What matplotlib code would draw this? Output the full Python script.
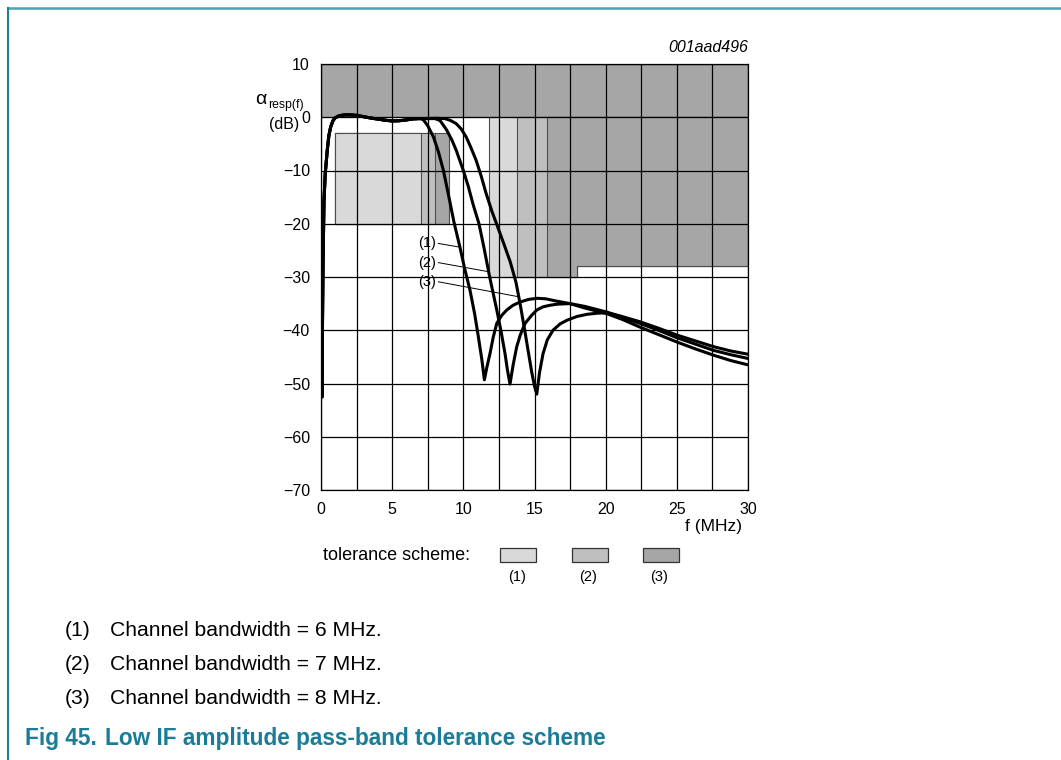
import matplotlib
matplotlib.use("Agg")
import matplotlib.pyplot as plt
from matplotlib.patches import Polygon, Rectangle
from matplotlib.lines import Line2D
import numpy as np

plt.rcParams['font.family'] = ['Liberation Sans', 'DejaVu Sans']

# ---------------- data ----------------
# shared pass-band part of all three responses (f in MHz, response in dB)
pass_f = [0.08, 0.1, 0.14, 0.21, 0.3, 0.44, 0.55, 0.68, 0.85, 1.0, 1.3, 1.7, 2.0,
          2.5, 3.0, 3.5, 4.0, 4.5, 5.0, 5.5, 6.0, 6.5, 7.0]
pass_db = [-52.5, -40, -28, -15.6, -10.5, -6.2, -3.5, -1.8, -0.6, -0.1, 0.3, 0.45, 0.45,
           0.35, 0.1, -0.15, -0.35, -0.55, -0.7, -0.65, -0.5, -0.3, -0.25]

# (1) channel bandwidth 6 MHz
c1_f = [7.2, 7.5, 7.9, 8.25, 8.6, 8.95, 9.35, 9.77, 10.1, 10.47, 10.8, 11.06, 11.3, 11.48,
        11.65, 11.88, 12.1, 12.35, 12.7, 13.05, 13.5, 13.98, 14.6, 15.2, 15.8, 16.5, 17.5,
        18.5, 20.1, 21.2, 22.4, 23.7, 25.0, 26.3, 27.6, 28.8, 30.0]
c1_db = [-0.5, -1.6, -3.7, -6.5, -10, -14.5, -19.8, -24.5, -28.5, -32.5, -37, -41.3, -45.5, -49.3,
         -47, -44.3, -41.3, -38.7, -37.2, -36.2, -35.3, -34.7, -34.2, -34.0, -34.1, -34.5, -35.0,
         -35.8, -36.9, -38.0, -39.4, -40.8, -42.2, -43.5, -44.7, -45.7, -46.5]

# (2) channel bandwidth 7 MHz
c2_f = [7.5, 8.0, 8.36, 8.83, 9.2, 9.5, 10.0, 10.35, 10.7, 11.1, 11.45, 11.85, 12.35, 12.65,
        12.93, 13.1, 13.28, 13.5, 13.75, 14.0, 14.34, 14.8, 15.16, 15.6, 16.1, 16.6, 17.5,
        18.5, 20.1, 21.2, 22.4, 23.7, 25.0, 26.3, 27.6, 28.8, 30.0]
c2_db = [-0.25, -0.25, -0.6, -2.4, -4.3, -6.2, -10, -13, -16.5, -20, -24.5, -30, -36.2, -40.2,
         -44.4, -47.5, -50.1, -46.5, -43.1, -40.9, -38.7, -37.2, -36.2, -35.6, -35.3, -35.1, -35.0,
         -35.5, -36.6, -37.6, -38.7, -40.0, -41.4, -42.6, -43.8, -44.6, -45.3]

# (3) channel bandwidth 8 MHz
c3_f = [7.5, 8.0, 8.7, 9.1, 9.5, 9.85, 10.2, 10.55, 10.9, 11.25, 11.6, 12.0, 12.4, 12.85, 13.3,
        13.7, 14.0, 14.3, 14.55, 14.8, 15.0, 15.16, 15.35, 15.6, 15.9, 16.3, 16.8, 17.3,
        18.0, 18.7, 19.4, 20.1, 21.0, 22.4, 23.7, 25.0, 26.3, 27.6, 28.8, 30.0]
c3_db = [-0.25, -0.2, -0.25, -0.6, -1.2, -2.2, -3.7, -5.8, -8.1, -11, -14.3, -17.6, -20.5, -23.8, -27.2,
         -31, -35.2, -39.8, -43.8, -47.8, -50.5, -52, -48, -44.4, -41.8, -40, -38.8, -38.1,
         -37.4, -37.0, -36.8, -36.7, -37.3, -38.4, -39.6, -40.9, -42.0, -43.1, -43.9, -44.5]

# tolerance schemes
scheme_labels = ['(1)', '(2)', '(3)']
scheme_colors = ['#d9d9d9', '#bfbfbf', '#a6a6a6']
upper_limit_f = [0, 30]
upper_limit_db = [0, 10]
pass_start_f = 1.0
pass_stop_f = [7.0, 8.0, 9.0]
pass_top_db = -3
pass_bottom_db = -20
stop_start_f = [11.8, 13.8, 15.9]
stop_step_f = 18.0
stop_floor_db = [-30, -28]
stop_end_f = 30.0

# annotations: label position and curve point
ann_labels = ['(1)', '(2)', '(3)']
ann_text = [(8.1, -23.7), (8.1, -27.3), (8.1, -30.9)]
ann_tip = [(9.77, -24.4), (11.76, -29.0), (13.87, -33.7)]

x_ticks = [0, 5, 10, 15, 20, 25, 30]
y_ticks = [10, 0, -10, -20, -30, -40, -50, -60, -70]

# ---------------- figure ----------------
W, H = 1061, 760
fig = plt.figure(figsize=(W / 100, H / 100), dpi=100)

def px(x, y):
    return x / W, 1 - y / H

ax = fig.add_axes([321 / W, 1 - 490 / H, (748 - 321) / W, (490 - 64) / H])
ax.set_xlim(0, 30)
ax.set_ylim(-70, 10)

edge = '#4d4d4d'
# upper limit band
ax.add_patch(Rectangle((upper_limit_f[0], upper_limit_db[0]),
                       upper_limit_f[1] - upper_limit_f[0],
                       upper_limit_db[1] - upper_limit_db[0],
                       facecolor=scheme_colors[2], edgecolor=edge, lw=0.8, zorder=1))
# pass band boxes, widest (3) first
for i in [2, 1, 0]:
    ax.add_patch(Rectangle((pass_start_f, pass_bottom_db), pass_stop_f[i] - pass_start_f,
                           pass_top_db - pass_bottom_db, facecolor=scheme_colors[i],
                           edgecolor=edge, lw=0.8, zorder=1))
# stop band regions
for i in [0, 1, 2]:
    poly = [(stop_start_f[i], 0), (stop_start_f[i], stop_floor_db[0]),
            (stop_step_f, stop_floor_db[0]), (stop_step_f, stop_floor_db[1]),
            (stop_end_f, stop_floor_db[1]), (stop_end_f, 0)]
    ax.add_patch(Polygon(poly, closed=True, facecolor=scheme_colors[i],
                         edgecolor=edge, lw=0.8, zorder=1))

ax.set_xticks(x_ticks)
ax.set_yticks(y_ticks)
ax.set_xticks(np.arange(2.5, 30, 5), minor=True)
ax.grid(which='both', color='black', lw=0.9, zorder=1.5)
ax.tick_params(which='both', length=0)
ax.tick_params(axis='x', pad=9, labelsize=11.5)
ax.tick_params(axis='y', pad=8, labelsize=11.5)
ax.set_yticklabels([str(v).replace('-', '\u2212') for v in y_ticks])
for s in ax.spines.values():
    s.set_linewidth(0.9)

lw = 2.2
for cf, cd in [(c3_f, c3_db), (c2_f, c2_db), (c1_f, c1_db)]:
    ax.plot(pass_f + cf, pass_db + cd, color='black', lw=lw, zorder=3,
            solid_capstyle='round', solid_joinstyle='round')

for lab, (tx, ty), (hx, hy) in zip(ann_labels, ann_text, ann_tip):
    ax.text(tx, ty, lab, ha='right', va='center', fontsize=10.5, zorder=4)
    ax.plot([tx + 0.15, hx], [ty, hy], color='black', lw=0.7, zorder=4)

# axis labels
fig.text(*px(267, 104), '\u03b1', fontsize=14, ha='right', va='baseline')
fig.text(*px(268, 108), 'resp(f)', fontsize=8.8, ha='left', va='baseline')
fig.text(*px(284, 124), '(dB)', fontsize=11.5, ha='center', va='center')
fig.text(*px(742, 527), 'f (MHz)', fontsize=12.5, ha='right', va='center')
fig.text(*px(748, 48), '001aad496', fontsize=11.5, ha='right', va='center', style='italic')

# tolerance scheme legend
fig.text(*px(323, 556), 'tolerance scheme:', fontsize=13, ha='left', va='center')
box_x = [500, 571.5, 642.5]
for i in range(3):
    x0, y0 = px(box_x[i], 562)
    fig.patches.append(Rectangle((x0, y0), 36 / W, 14 / H, transform=fig.transFigure,
                                 facecolor=scheme_colors[i], edgecolor='#333333', lw=0.9))
    fig.text(*px(box_x[i] + 17, 577), scheme_labels[i], fontsize=10.5, ha='center', va='center')

# notes
notes = ['Channel bandwidth = 6 MHz.', 'Channel bandwidth = 7 MHz.', 'Channel bandwidth = 8 MHz.']
note_y = [631, 665, 699]
for lab, txt, y in zip(scheme_labels, notes, note_y):
    fig.text(*px(65, y), lab, fontsize=15.2, ha='left', va='center')
    fig.text(*px(110, y), txt, fontsize=15.2, ha='left', va='center')

teal = '#1b7c97'
fig.text(*px(25, 739), 'Fig 45.', fontsize=16.3, fontweight='bold', color=teal, ha='left', va='center')
fig.text(*px(105, 739), 'Low IF amplitude pass-band tolerance scheme', fontsize=16.3,
         fontweight='bold', color=teal, ha='left', va='center')

# frame lines
fig.add_artist(Line2D([8 / W, 1], [1 - 8 / H, 1 - 8 / H], transform=fig.transFigure,
                      color='#4aa3b8', lw=1.8))
fig.add_artist(Line2D([8 / W, 8 / W], [1 - 8 / H, 0], transform=fig.transFigure,
                      color='#1f7f96', lw=1.5))

fig.savefig('out.png', dpi=100)
